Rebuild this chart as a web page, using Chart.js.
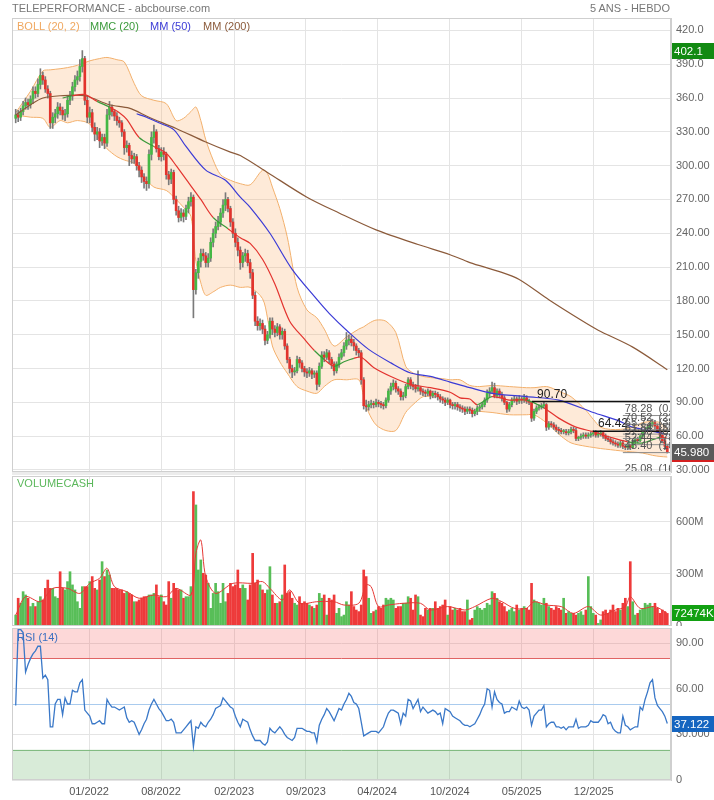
<!DOCTYPE html>
<html>
<head>
<meta charset="utf-8">
<script src="https://cdn.jsdelivr.net/npm/chart.js@4.4.1/dist/chart.umd.min.js"></script>
<style>
  body { margin: 0; background: #fff; width: 714px; height: 800px; position: relative; overflow: hidden;
         font-family: "Liberation Sans", Arial, sans-serif; }
  canvas { position: absolute; left: 0; }
  .t { position: absolute; font-size: 11px; white-space: nowrap; line-height: 12px; z-index: 2; }
  .gap { position: absolute; left: 12px; width: 659px; background: #ececec; }
</style>
</head>
<body>
<canvas id="price" width="714" height="474" style="top:0"></canvas>
<canvas id="volume" width="714" height="152" style="top:474px"></canvas>
<canvas id="rsi" width="714" height="174" style="top:626px"></canvas>
<div class="gap" style="top:472px;height:3px"></div>

<div class="t" style="left:12px;top:2px;color:#777">TELEPERFORMANCE - abcbourse.com</div>
<div class="t" style="right:44px;top:2px;color:#777">5 ANS - HEBDO</div>
<div class="t" style="left:17px;top:20px;color:#f0a860">BOLL (20, 2)</div>
<div class="t" style="left:90px;top:20px;color:#3a9a3a">MMC (20)</div>
<div class="t" style="left:150px;top:20px;color:#3b3bd6">MM (50)</div>
<div class="t" style="left:203px;top:20px;color:#8b5a3a">MM (200)</div>
<div class="t" style="left:17px;top:477px;color:#5cb85c">VOLUMECASH</div>
<div class="t" style="left:17px;top:631px;color:#3a6fc0">RSI (14)</div>

<script>
// weekly candles, one entry per week (index = week number)
const opens = [
  342,345,343,348,353,356,354,359,366,364, 372,380,376,368,364,338,343,346,352,349,
  345,346,358,362,370,376,379,388,395,358, 343,347,334,328,330,322,325,320,345,352,
  348,344,340,338,330,316,318,309,306,308, 300,296,290,286,284,310,325,330,315,308,
  312,310,292,288,294,270,260,254,258,255, 262,268,272,190,205,215,222,220,214,218,
  232,240,246,250,258,265,270,262,250,240, 232,225,214,220,222,214,205,185,162,158,
  160,155,145,150,162,155,152,157,150,153, 140,128,120,117,118,128,125,120,117,116,
  118,115,116,106,122,132,130,134,128,124, 118,124,130,134,140,145,146,143,140,136,
  134,110,87,86,88,89,88,90,89,88, 87,92,100,104,107,102,100,95,96,104,
  110,105,104,102,103,100,99,98,100,96, 98,97,95,93,92,90,92,88,87,88,
  86,85,84,82,84,83,80,82,85,86, 88,92,98,100,103,96,100,97,94,90,
  84,88,92,93,91,93,92,94,91,90, 76,82,85,86,87,88,68,71,70,68,
  66,65,64,64,63,64,66,65,58,59, 60,61,60,61,62,63,61,62,63,60,
  58,57,55,54,53,52,54,51,50,52, 50,55,57,56,60,64,66,68,70,72,
  69,65,61,56,51
];
const highs = [
  350,349,351,357,360,359,362,370,370,377, 386,383,379,371,366,347,350,356,355,352,
  350,362,366,374,380,384,394,402.1,397,362, 352,350,338,334,333,328,328,350,357,354,
  350,347,343,340,332,322,320,313,311,310, 303,299,293,290,314,330,336,332,318,316,
  316,312,295,297,296,273,264,262,261,265, 272,276,274,208,218,226,226,223,222,236,
  244,250,255,262,270,276,272,264,253,244, 236,228,223,226,225,217,208,188,166,164,
  163,158,153,165,165,158,160,159,156,155, 142,130,123,121,131,130,127,122,120,121,
  120,118,118,125,135,135,137,136,130,126, 126,133,137,143,152,150,149,146,142,138,
  136,112,92,91,92,91,93,92,91,90, 94,102,107,110,109,104,102,99,106,112,
  112,108,106,118,104,102,101,102,101,100, 100,99,97,95,94,94,93,90,90,90,
  88,87,86,86,86,85,84,87,88,90, 94,101,103,108,107,102,102,99,96,91,
  90,94,96,95,96,95,97,96,93,91, 84,87,88,89,90,89,73,73,72,70,
  68,67,66,66,66,68,68,67,60,62, 63,63,63,64,65,65,64,65,64,62,
  60,59,57,56,55,56,56,53,54,53, 57,59,59,62,66,68,70,72,75,74,
  71,67,63,58,53
];
const lows = [
  338,339,340,345,350,350,351,355,360,361, 368,372,365,360,333,333,338,342,345,341,
  340,343,354,358,366,372,375,383,354,338, 338,330,322,323,316,318,315,317,341,344,
  340,336,334,326,310,312,300,302,302,296, 290,285,280,278,280,305,320,312,305,304,
  305,288,283,284,266,256,250,251,250,252, 258,264,165,186,200,210,216,210,210,215,
  228,236,243,246,254,260,259,246,236,228, 220,208,210,215,211,200,182,158,154,154,
  151,141,142,147,150,148,149,146,146,137, 125,116,112,114,116,121,117,113,112,113,
  111,112,101,104,120,126,128,125,120,114, 116,121,128,131,137,141,140,136,132,130,
  106,84,82,83,85,85,86,86,85,84, 85,90,97,101,99,97,92,92,94,102,
  102,101,99,100,97,96,95,96,93,94, 94,92,90,89,87,88,85,84,84,83,
  82,81,79,80,80,77,78,79,82,84, 86,90,95,98,94,94,94,91,88,81,
  82,86,90,88,89,89,90,89,88,73, 74,80,83,84,85,65,66,68,66,64,
  62,62,62,61,61,62,63,56,56,57, 58,58,58,59,60,59,59,60,58,56,
  55,53,52,51,50,50,49,48,48,48, 49,53,54,55,58,62,64,66,68,66,
  63,59,54,48,45
];
const closes = [
  345,343,348,353,356,354,359,366,364,372, 380,376,368,364,338,343,346,352,349,345,
  346,358,362,370,376,379,388,395,358,343, 347,334,328,330,322,325,320,345,352,348,
  344,340,338,330,316,318,309,306,308,300, 296,290,286,284,310,325,330,315,308,312,
  310,292,288,294,270,260,254,258,255,262, 268,272,190,205,215,222,220,214,218,232,
  240,246,250,258,265,270,262,250,240,232, 225,214,220,222,214,205,185,162,158,160,
  155,145,150,162,155,152,157,150,153,140, 128,120,117,118,128,125,120,117,116,118,
  115,116,106,122,132,130,134,128,124,118, 124,130,134,140,145,146,143,140,136,134,
  110,87,86,88,89,88,90,89,88,87, 92,100,104,107,102,100,95,96,104,110,
  105,104,102,103,100,99,98,100,96,98, 97,95,93,92,90,92,88,87,88,86,
  85,84,82,84,83,80,82,85,86,88, 92,98,100,103,96,100,97,94,90,84,
  88,92,93,91,93,92,94,91,90,76, 82,85,86,87,88,68,71,70,68,66,
  65,64,64,63,64,66,65,58,59,60, 61,60,61,62,63,61,62,63,60,58,
  57,55,54,53,52,54,51,50,52,50, 55,57,56,60,64,66,68,70,72,69,
  65,61,56,51,45.98
];
// weekly traded value, millions
const volumes = [
  63,160,131,198,179,160,112,131,112,140, 169,150,217,265,217,217,169,160,313,217,
  208,256,313,237,208,140,102,227,227,227, 256,285,217,208,265,371,285,323,294,217,
  217,217,208,208,188,198,188,179,140,140, 150,160,169,169,179,179,188,237,169,179,
  140,121,256,160,246,217,208,208,160,169, 169,227,775,698,323,381,304,294,246,102,
  188,246,198,131,246,140,188,246,227,237, 323,217,237,217,150,237,419,246,265,237,
  208,188,208,342,179,131,131,140,179,352, 188,198,160,131,121,169,131,140,131,121,
  112,102,121,188,160,179,63,160,150,179, 73,102,54,63,140,121,198,112,92,83,
  121,323,285,160,73,83,92,112,102,121, 160,150,160,150,102,112,112,131,131,169,
  160,92,179,169,63,54,102,92,102,102, 140,102,112,121,150,63,112,92,102,92,
  102,83,83,150,35,44,92,112,102,92, 102,131,121,198,188,160,140,131,112,83,
  92,102,83,121,92,102,112,102,92,246, 150,140,131,121,160,131,112,102,92,112,
  102,92,160,73,83,73,73,63,73,83, 63,92,285,112,73,63,15,35,83,92,
  73,92,121,83,102,92,131,160,112,371, 140,63,73,92,102,131,121,131,112,131,
  102,73,92,83,72.474
];
const rsiValues = [
  49,99,99,97,71,76,80,83,85,88, 88,67,69,66,35,35,50,53,53,43,
  54,50,50,59,58,58,64,66,46,44, 42,37,37,38,39,37,37,53,50,48,
  48,47,46,47,48,41,38,39,38,34, 30,33,37,40,46,50,53,50,47,45,
  42,39,39,40,38,31,31,31,33,35, 37,39,22,35,34,38,36,35,38,40,
  43,47,48,49,54,52,50,48,47,42, 38,35,40,39,38,33,29,26,26,26,
  24,23,25,34,32,31,33,35,33,30, 28,27,26,28,34,34,34,33,32,32,
  31,31,25,36,40,43,47,45,42,39, 43,47,46,50,53,57,55,51,50,47,
  38,29,30,31,32,32,32,31,33,35, 40,44,46,46,45,44,37,44,42,53,
  52,47,50,53,45,48,46,44,45,46, 45,43,44,37,47,46,45,42,41,40,
  39,37,36,36,35,36,37,40,43,47, 50,60,59,48,58,53,51,50,44,45,
  45,48,47,46,52,48,47,48,46,36, 42,44,46,46,49,35,37,38,38,35,
  35,34,35,33,35,35,35,40,34,35, 35,35,36,39,38,38,38,40,43,42,
  37,38,34,32,31,31,42,36,35,33, 34,35,35,48,46,53,58,64,66,54,
  49,47,45,42,37.122
];

// indicator lines read at selected weeks
const bollWeeks = [0,6,11,14,18,21,25,30,34,37,41,44,48,51,56,61,65,68,71,73,75,77,80,83,87,91,95,100,102,104,107,110,114,118,122,125,129,134,139,141,143,146,150,154,158,161,165,168,173,176,180,184,188,193,200,207,210,215,218,221,225,231,234,237,241,245,250,254,258,261,264];
const bollUpper = [347,366,384,385,386,387,389,393,395,396,394,392,373,362,358,355,340,342,348,352,340,323,305,292,287,284,283,296,293,281,262,237,192,172,165,155,140,148,155,157,160,163,162,152,122,116,113,112,111,110,110,105,104,105,104,103,103,104,102,99,95,83,75,68,66,66,68,72,73,72,66];
const bollLower = [345,343,342,334,340,338,340,337,323,315,308,305,302,292,281,278,270,263,255,215,196,185,188,192,194,192,192,182,165,140,126,116,104,100,98,104,110,110,110,95,81,70,65,65,81,88,95,95,94,90,85,83,82,81,79,79,79,72,66,60,54,51,50,49,48,47,46,45,43,42,41.5];

const mmcWeeks = [19,23,28,33,38,42,45,50,56,61,65,69,75,80,86,91,95,100,105,111,117,121,125,129,133,137,140,145,152,160,168,176,180,184,187,193,200,207,214,220,227,234,241,248,254,261,264];
const mmcValues = [360,362,363,357,352,347,341,325,317,311,300,288,270,254,244,236,231,217,195,162,146,136,128,122,126,129,130,121,113,106,103,99,94,93,88,95,92,92,85,76,68,64,59,55,54,59,58];

const mm50Weeks = [49,53,58,64,69,77,85,91,95,103,112,121,127,135,143,152,160,168,176,184,193,207,220,234,244,250,261,264];
const mm50Values = [346,343,338,332,317,296,287,272,263,240,208,184,169,152,137,125,116,113,108,103,98,95,92,81,74,68,63,61];

const mm200Weeks = [0,6,11,18,28,38,46,54,65,77,87,91,102,118,131,146,163,176,184,196,204,216,229,236,250,264];
const mm200Values = [345,354,360,362,362,354,351,343,333,321,312,309,294,272,258,243,230,221,214,206,199,181,163,154,139,119];

const volMaWeeks = [0,4,10,15,21,26,30,34,37,40,45,50,56,61,65,71,73,75,77,81,88,96,100,103,108,111,115,122,129,133,139,142,144,147,151,157,164,168,175,182,186,193,197,202,207,210,215,221,226,232,237,243,247,249,253,259,264];
const volMaValues = [63,169,140,217,217,188,246,275,333,227,198,160,179,169,217,179,419,496,285,188,246,246,256,217,150,208,131,140,140,121,131,237,227,112,121,131,131,92,112,92,112,160,140,102,102,140,121,112,73,112,63,92,112,169,102,112,73];

// horizontal levels and retracement
const levelValues = [90.70, 64.42];
const levelStarts = [209.2, 233.9];
const fibValues = [78.28, 70.52, 65.72, 61.84, 57.96, 52.44, 45.40, 25.08];
const fibLabels = ['78.28  (0.0%)', '70.52  (23.6%)', '65.72  (38.2%)', '61.84  (50.0%)', '57.96  (61.8%)', '52.44  (78.6%)', '45.40  (100.0%)', '25.08  (161.8%)'];
const fibStart = 246;

// axes
const xTickPos = [29.7, 58.9, 88.5, 117.6, 146.4, 175.9, 205, 234.2];
const xTickLabels = ['01/2022', '08/2022', '02/2023', '09/2023', '04/2024', '10/2024', '05/2025', '12/2025'];
const priceTicks = [30, 60, 90, 120, 150, 180, 210, 240, 270, 300, 330, 360, 390, 420];
const priceTickLabels = ['30.000', '60.00', '90.00', '120.00', '150.00', '180.00', '210.00', '240.00', '270.00', '300.00', '330.00', '360.0', '390.0', '420.0'];
const volTicks = [0, 300, 600];
const volTickLabels = ['0', '300M', '600M'];
const rsiTicks = [0, 30, 60, 90];
const rsiTickLabels = ['0', '30.000', '60.00', '90.00'];

Chart.defaults.font.family = '"Liberation Sans", Arial, sans-serif';
Chart.defaults.font.size = 11;
Chart.defaults.animation = false;

const GREEN = '#45b845', RED = '#e2332c';
const isUp = closes.map((c, i) => c >= opens[i]);
const pts = (xs, ys) => xs.map((x, i) => ({ x: x, y: ys[i] }));

function noPad(s) {
  s.paddingTop = 0; s.paddingBottom = 0; s.paddingLeft = 0; s.paddingRight = 0;
}
function xAxis(showLabels) {
  return {
    type: 'linear', min: -1.5, max: 265.5, offset: false,
    afterBuildTicks: s => { s.ticks = xTickPos.map(v => ({ value: v })); },
    afterFit: s => { s.height = showLabels ? 20 : 0; noPad(s); },
    grid: { color: '#e4e4e4', drawTicks: false, offset: false },
    border: { display: false },
    ticks: { display: showLabels, autoSkip: false, maxRotation: 0, padding: 5, color: '#555',
             callback: (v, i) => xTickLabels[i] }
  };
}
function yAxis(min, max, ticks, labels) {
  return {
    position: 'right', min: min, max: max,
    afterBuildTicks: s => { s.ticks = ticks.map(v => ({ value: v })); },
    afterFit: s => { s.width = 43; noPad(s); },
    grid: { color: '#e4e4e4', drawTicks: false },
    border: { display: true, color: '#cfcfcf' },
    ticks: { autoSkip: false, padding: 5, color: '#666', callback: (v, i) => labels[i] }
  };
}

const frame = {
  id: 'frame',
  afterDraw(chart) {
    const { ctx, chartArea: a } = chart;
    ctx.save();
    ctx.strokeStyle = '#cfcfcf';
    ctx.lineWidth = 1;
    ctx.strokeRect(a.left + 0.5, a.top + 0.5, a.width - 1, a.height - 1);
    ctx.restore();
  }
};
function badges(items) {
  return {
    id: 'badges',
    afterDraw(chart) {
      const { ctx, chartArea: a } = chart;
      const s = chart.scales.y;
      ctx.save();
      items.forEach(b => {
        const y = Math.round(s.getPixelForValue(b.v));
        ctx.fillStyle = b.bg;
        ctx.fillRect(a.right + 1, y - 8, chart.width - a.right - 1, 16);
        if (b.under) { ctx.fillStyle = b.under; ctx.fillRect(a.right + 1, y + 8, chart.width - a.right - 1, 2); }
        ctx.fillStyle = '#fff';
        ctx.font = '11.5px "Liberation Sans", Arial, sans-serif';
        ctx.textAlign = 'left';
        ctx.textBaseline = 'middle';
        ctx.fillText(b.text, a.right + 3, y + 1);
      });
      ctx.restore();
    }
  };
}
const levelText = {
  id: 'levelText',
  afterDatasetsDraw(chart) {
    const { ctx, chartArea: a, scales: { x, y } } = chart;
    ctx.save();
    ctx.beginPath();
    ctx.rect(a.left, a.top, a.width, a.height);
    ctx.clip();
    ctx.textAlign = 'left';
    ctx.textBaseline = 'bottom';
    ctx.font = '12px "Liberation Sans", Arial, sans-serif';
    ctx.fillStyle = '#222';
    levelValues.forEach((v, i) => {
      ctx.fillText(v.toFixed(2), x.getPixelForValue(levelStarts[i]) + 5, y.getPixelForValue(v) - 1);
    });
    ctx.font = '11px "Liberation Sans", Arial, sans-serif';
    ctx.fillStyle = '#555';
    fibValues.forEach((v, i) => {
      ctx.fillText(fibLabels[i], x.getPixelForValue(fibStart) + 2, y.getPixelForValue(v) - 1);
    });
    ctx.restore();
  }
};
const rsiZones = {
  id: 'rsiZones',
  beforeDatasetsDraw(chart) {
    const { ctx, chartArea: a, scales: { y } } = chart;
    const p = v => y.getPixelForValue(v);
    ctx.save();
    ctx.fillStyle = 'rgba(245,90,90,0.24)';
    ctx.fillRect(a.left, p(100), a.width, p(80) - p(100));
    ctx.fillStyle = 'rgba(90,170,90,0.24)';
    ctx.fillRect(a.left, p(20), a.width, p(0) - p(20));
    [[80, '#e06464'], [50, '#a9cbee'], [20, '#82bb82']].forEach(([v, c]) => {
      ctx.strokeStyle = c;
      ctx.lineWidth = 1;
      ctx.beginPath();
      ctx.moveTo(a.left, Math.round(p(v)) + 0.5);
      ctx.lineTo(a.right, Math.round(p(v)) + 0.5);
      ctx.stroke();
    });
    ctx.restore();
  }
};

const lineBase = { type: 'line', pointRadius: 0, borderWidth: 1.2, tension: 0.3, fill: false };

// price panel
const priceDatasets = [
  Object.assign({}, lineBase, { data: pts(bollWeeks, bollUpper), borderColor: '#f2b06c', borderWidth: 1,
    fill: '+1', backgroundColor: 'rgba(250,180,115,0.28)', order: 10 }),
  Object.assign({}, lineBase, { data: pts(bollWeeks, bollLower), borderColor: '#f2b06c', borderWidth: 1, order: 10 }),
  { type: 'bar', data: closes.map((c, i) => ({ x: i, y: [lows[i], highs[i]] })), backgroundColor: '#7a7a7a',
    barThickness: 1, grouped: false, order: 6 },
  { type: 'bar', data: closes.map((c, i) => ({ x: i, y: [opens[i], c] })),
    backgroundColor: isUp.map(u => u ? GREEN : RED), barThickness: 2, minBarLength: 1, grouped: false, order: 5 },
  Object.assign({}, lineBase, { data: pts(mm200Weeks, mm200Values), borderColor: '#8b5a3a', order: 3 }),
  Object.assign({}, lineBase, { data: pts(mm50Weeks, mm50Values), borderColor: '#3b3bd6', order: 2 }),
  Object.assign({}, lineBase, { data: pts(mmcWeeks, mmcValues), borderColor: RED, order: 1,
    segment: { borderColor: ctx => closes[Math.round(ctx.p1.parsed.x)] >= ctx.p1.parsed.y ? '#3a9a3a' : '#e3342f' } }),
];
levelValues.forEach((v, i) => {
  priceDatasets.push(Object.assign({}, lineBase, { data: [{ x: levelStarts[i], y: v }, { x: 265.5, y: v }],
    borderColor: '#111', borderWidth: 1.5, tension: 0, order: 0 }));
});
fibValues.forEach(v => {
  priceDatasets.push(Object.assign({}, lineBase, { data: [{ x: fibStart, y: v }, { x: 265.5, y: v }],
    borderColor: '#8a8a8a', borderWidth: 1, tension: 0, order: 0 }));
});

new Chart(document.getElementById('price'), {
  type: 'bar',
  data: { datasets: priceDatasets },
  options: {
    responsive: false,
    layout: { autoPadding: false, padding: { top: 18, left: 12, right: 0, bottom: 2 } },
    plugins: { legend: { display: false }, tooltip: { enabled: false } },
    scales: { x: xAxis(false), y: yAxis(28.2, 431, priceTicks, priceTickLabels) }
  },
  plugins: [levelText, frame, badges([
    { v: 402.1, text: '402.1', bg: '#128a12' },
    { v: 45.98, text: '45.980', bg: '#5a5a5a', under: '#d42020' }
  ])]
});

// volume panel
new Chart(document.getElementById('volume'), {
  type: 'bar',
  data: { datasets: [
    { type: 'bar', data: volumes.map((v, i) => ({ x: i, y: v })), backgroundColor: isUp.map(u => u ? '#58be58' : '#ee3a3a'),
      barThickness: 2, grouped: false, order: 2 },
    Object.assign({}, lineBase, { data: pts(volMaWeeks, volMaValues), borderColor: '#e53935', borderWidth: 1, order: 1 })
  ] },
  options: {
    responsive: false,
    layout: { autoPadding: false, padding: { top: 2, left: 12, right: 0, bottom: 0 } },
    plugins: { legend: { display: false }, tooltip: { enabled: false } },
    scales: { x: xAxis(false), y: yAxis(0, 865, volTicks, volTickLabels) }
  },
  plugins: [frame, badges([{ v: 72.474, text: '72474K', bg: '#12a012' }])]
});

// RSI panel
new Chart(document.getElementById('rsi'), {
  type: 'line',
  data: { datasets: [
    Object.assign({}, lineBase, { data: rsiValues.map((v, i) => ({ x: i, y: v })), borderColor: '#3a78c8',
      borderWidth: 1.3, tension: 0 })
  ] },
  options: {
    responsive: false,
    layout: { autoPadding: false, padding: { top: 2, left: 12, right: 0, bottom: 0 } },
    plugins: { legend: { display: false }, tooltip: { enabled: false } },
    scales: { x: xAxis(true), y: yAxis(0, 100, rsiTicks, rsiTickLabels) }
  },
  plugins: [rsiZones, frame, badges([{ v: 37.122, text: '37.122', bg: '#1565c0' }])]
});
</script>
</body>
</html>
